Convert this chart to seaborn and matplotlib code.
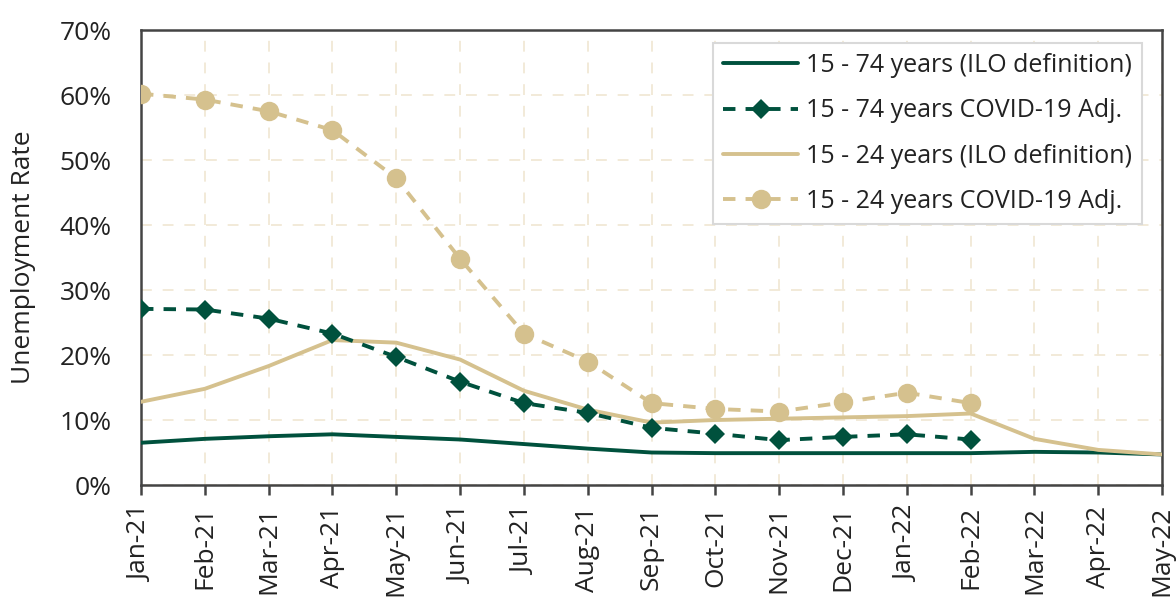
import numpy as np
import pandas as pd
import matplotlib
matplotlib.use("Agg")
import matplotlib.pyplot as plt
import seaborn as sns

months = ["Jan-21", "Feb-21", "Mar-21", "Apr-21", "May-21", "Jun-21", "Jul-21", "Aug-21",
          "Sep-21", "Oct-21", "Nov-21", "Dec-21", "Jan-22", "Feb-22", "Mar-22", "Apr-22", "May-22"]

ilo_15_74 = [6.5, 7.1, 7.5, 7.8, 7.4, 7.0, 6.3, 5.6, 5.0, 4.9, 4.9, 4.9, 4.9, 4.9, 5.1, 5.0, 4.7]
adj_15_74 = [27.1, 27.0, 25.6, 23.3, 19.7, 15.9, 12.6, 11.1, 8.8, 7.9, 6.9, 7.4, 7.8, 7.0]
ilo_15_24 = [12.8, 14.8, 18.3, 22.3, 21.9, 19.3, 14.5, 11.6, 9.6, 10.0, 10.2, 10.4, 10.6, 11.0, 7.1, 5.4, 4.7]
adj_15_24 = [60.2, 59.3, 57.5, 54.6, 47.2, 34.8, 23.3, 19.0, 12.6, 11.7, 11.3, 12.7, 14.2, 12.6]

green = "#00513D"
tan = "#D5C18E"
text_col = "#222222"
tick_fs = 19
legend_fs = 18

sns.set_theme(style="white")
plt.rcParams["font.family"] = ["Open Sans", "DejaVu Sans"]

fig = plt.figure(figsize=(11.76, 5.97), dpi=100)
ax = fig.add_axes([0.1199, 0.1876, 0.8683, 0.7621])


def frame(values):
    return pd.DataFrame({"pos": np.arange(len(values)), "rate": values})


dash = (0, (3.2, 2.6))
sns.lineplot(data=frame(ilo_15_74), x="pos", y="rate", color=green, lw=2.8, ax=ax,
             label="15 - 74 years (ILO definition)", zorder=3)
sns.lineplot(data=frame(adj_15_74), x="pos", y="rate", color=green, lw=2.8, ax=ax,
             label="15 - 74 years COVID-19 Adj.", linestyle=dash, marker="D",
             markersize=10, markeredgewidth=0, zorder=4)
sns.lineplot(data=frame(ilo_15_24), x="pos", y="rate", color=tan, lw=2.8, ax=ax,
             label="15 - 24 years (ILO definition)", zorder=3)
sns.lineplot(data=frame(adj_15_24), x="pos", y="rate", color=tan, lw=2.8, ax=ax,
             label="15 - 24 years COVID-19 Adj.", linestyle=dash, marker="o",
             markersize=14, markeredgewidth=0, zorder=4)

ax.set_xlim(0, len(months) - 1)
ax.set_ylim(0, 70)
ax.set_xticks(np.arange(len(months)))
ax.set_xticklabels(months, rotation=90, fontsize=tick_fs, color=text_col)
ax.set_yticks(np.arange(0, 71, 10))
ax.set_yticklabels([f"{v}%" for v in range(0, 71, 10)], fontsize=tick_fs, color=text_col)
ax.set_xlabel("")
ax.set_ylabel("Unemployment Rate", fontsize=19, color=text_col)
ax.yaxis.set_label_coords(-0.103, 0.5)

ax.grid(True, color="#F1E8D6", linestyle=(0, (6, 6)), linewidth=1.3)
ax.set_axisbelow(True)
for sp in ax.spines.values():
    sp.set_color("#444444")
    sp.set_linewidth(1.8)
ax.tick_params(axis="x", which="major", bottom=True, length=7, width=1.8, color="#444444", pad=8)
ax.tick_params(axis="y", which="major", left=False, length=0, pad=21)

leg = ax.legend(loc="upper right", bbox_to_anchor=(0.980, 0.971), borderaxespad=0,
                fontsize=legend_fs, frameon=True, fancybox=False, edgecolor="#D9D9D9",
                framealpha=1, borderpad=0.4, labelspacing=0.81, handlelength=3.0,
                handletextpad=0.3)
leg.get_frame().set_linewidth(1.5)
for t in leg.get_texts():
    t.set_color(text_col)

fig.savefig("out.png", dpi=100)
